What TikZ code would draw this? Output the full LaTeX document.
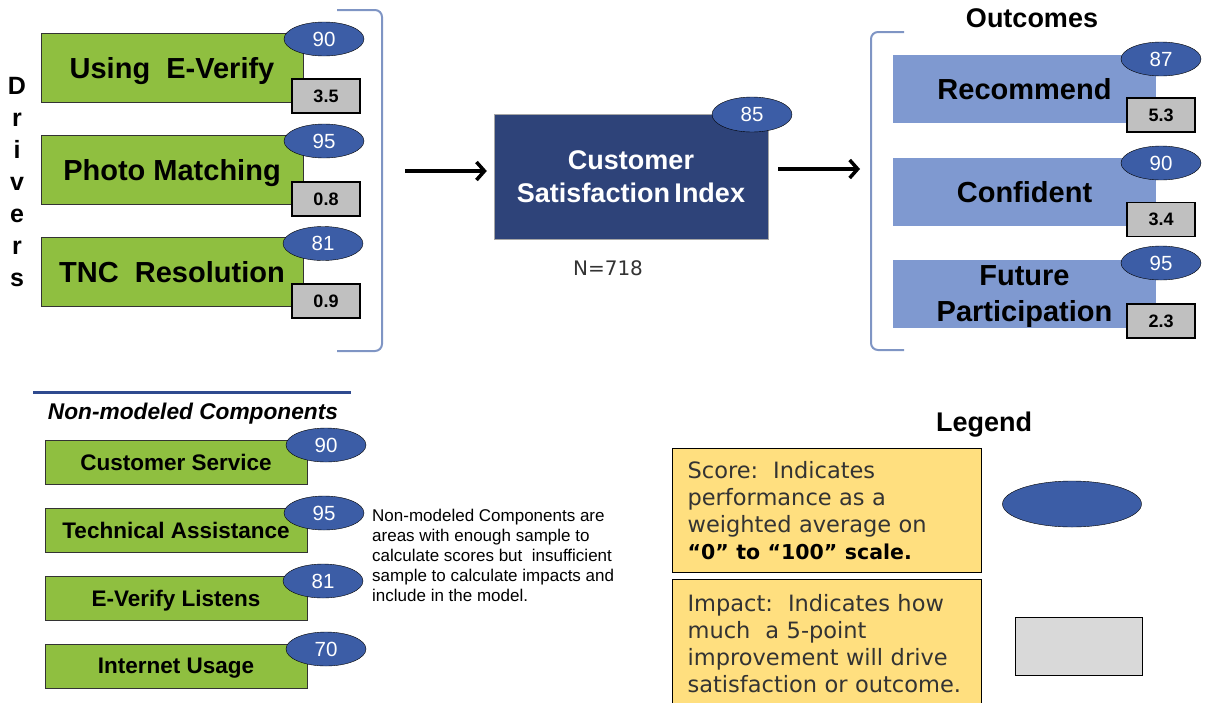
\documentclass[tikz,border=0pt]{standalone}
\usepackage{fontspec}
\setmainfont{Liberation Sans}
\newfontfamily\legendfont{DejaVu Sans}
\usetikzlibrary{shapes.geometric,arrows.meta}
\definecolor{drvgreen}{HTML}{8FBF40}
\definecolor{outblue}{HTML}{7F99D0}
\definecolor{csinavy}{HTML}{2E4379}
\definecolor{scoreblue}{HTML}{3C5DA6}
\definecolor{impgray}{HTML}{C0C0C0}
\definecolor{legendgray}{HTML}{D9D9D9}
\definecolor{bracketblue}{HTML}{7F95C4}
\definecolor{linenavy}{HTML}{2F4A8F}
\definecolor{legyellow}{HTML}{FFDF7F}
\definecolor{legtext}{HTML}{333333}

\begin{document}
\begin{tikzpicture}[x=1pt,y=-1pt,
    drvbox/.style={draw=black!80, fill=drvgreen, minimum width=262, minimum height=69, inner sep=0,
      text depth=0pt, font=\fontsize{29}{32}\selectfont\bfseries},
    outbox/.style={fill=outblue, minimum width=263, minimum height=68, inner sep=0, align=center,
      text depth=0pt, font=\fontsize{29}{36}\selectfont\bfseries},
    nmbox/.style={draw=black!80, fill=drvgreen, minimum width=262, minimum height=44, inner sep=0,
      text depth=0pt, font=\fontsize{22.5}{26}\selectfont\bfseries},
    scoreoval/.style={ellipse, draw=black, fill=scoreblue, minimum width=80, minimum height=34,
      inner sep=0, text=white, font=\fontsize{20.5}{22}\selectfont},
    impactbox/.style={draw=black, line width=1.2pt, fill=impgray, minimum width=68, minimum height=34,
      inner sep=0, font=\fontsize{18}{20}\selectfont\bfseries},
    bracket/.style={draw=bracketblue, line width=2pt, rounded corners=7},
    flowarrow/.style={line width=3.5pt, -{Straight Barb[length=8pt,width=18pt]}},
    legbox/.style={draw=black, line width=1.2pt, fill=legyellow, minimum width=309, inner xsep=15,
      text width=279, align=left, anchor=north west, text=legtext,
      font=\legendfont\fontsize{22.5}{27}\selectfont}]
  \useasboundingbox (0,0) rectangle (1205,702);

  % Drivers
  \node[anchor=north, inner sep=0, align=center, font=\fontsize{25}{32}\selectfont\bfseries]
    (drvlabel) at (17,77) {D\\r\\i\\v\\e\\r\\s};
  \node[drvbox] (everify) at (172,67.5) {Using\ \ E-Verify};
  \node[drvbox] (photo) at (172,170) {Photo Matching};
  \node[drvbox] (tnc) at (172,272) {TNC\ \ Resolution};
  \node[impactbox] (everifyimp) at (326,96) {3.5};
  \node[impactbox] (photoimp) at (326,199) {0.8};
  \node[impactbox] (tncimp) at (326,301) {0.9};
  \node[scoreoval] (everifyscore) at (324,39) {90};
  \node[scoreoval] (photoscore) at (324,141) {95};
  \node[scoreoval] (tncscore) at (323,243.5) {81};
  \draw[bracket] (337,10) -- (382,10) -- (382,351) -- (337,351);

  % Customer Satisfaction Index
  \node[draw=black!35, fill=csinavy, minimum width=274, minimum height=125, inner sep=0,
    text=white, align=center, font=\fontsize{27}{33}\selectfont\bfseries]
    (csi) at (631,176.5) {Customer\\Satisfaction\,Index};
  \node[scoreoval, minimum height=35] (csiscore) at (752,114.5) {85};
  \node[text=legtext, font=\legendfont\fontsize{20}{22}\selectfont] (sample) at (608,268) {N=718};
  \coordinate (drvout) at (405,171);
  \coordinate (outin) at (860,169);
  \draw[flowarrow, shorten >=7pt] (drvout) -- (drvout -| csi.west);
  \draw[flowarrow, shorten <=10pt] (outin -| csi.east) -- (outin);

  % Outcomes
  \node[font=\fontsize{27}{30}\selectfont\bfseries] (outlabel) at (1032,18) {Outcomes};
  \node[outbox] (recommend) at (1024.5,89) {Recommend};
  \node[outbox] (confident) at (1024.5,191.5) {Confident};
  \node[outbox] (future) at (1024.5,294) {Future\\Participation};
  \node[impactbox] (recommendimp) at (1161,115) {5.3};
  \node[impactbox] (confidentimp) at (1161,219.5) {3.4};
  \node[impactbox] (futureimp) at (1161,321) {2.3};
  \node[scoreoval] (recommendscore) at (1161,59) {87};
  \node[scoreoval] (confidentscore) at (1161,163) {90};
  \node[scoreoval] (futurescore) at (1161,263) {95};
  \draw[bracket] (904,32) -- (871,32) -- (871,350) -- (904,350);

  % Non-modeled components
  \draw[linenavy, line width=3pt] (33,392) -- (351,392);
  \node[font=\fontsize{22.7}{26}\selectfont\bfseries\itshape] (nmlabel) at (193,414) {Non-modeled Components};
  \node[nmbox] (service) at (176,462.5) {Customer Service};
  \node[nmbox] (assist) at (176,530) {Technical Assistance};
  \node[nmbox] (listens) at (176,598) {E-Verify Listens};
  \node[nmbox] (internet) at (176,666) {Internet Usage};
  \node[scoreoval] (servicescore) at (326,445) {90};
  \node[scoreoval] (assistscore) at (324,513) {95};
  \node[scoreoval] (listensscore) at (323,581) {81};
  \node[scoreoval] (internetscore) at (326,649) {70};
  \node[anchor=west, inner sep=0, align=left, font=\fontsize{17}{20}\selectfont] (nmnote) at (372,555)
    {Non-modeled Components are\\areas with enough sample to\\calculate scores but\ \ insufficient\\sample to calculate impacts and\\include in the model.};

  % Legend
  \node[font=\fontsize{27}{30}\selectfont\bfseries] (leglabel) at (984,425) {Legend};
  \node[legbox, minimum height=124] (scorekey) at (672,448)
    {Score:\ \ Indicates\\performance as a\\weighted average on\\{\fontsize{20.5}{27}\selectfont\bfseries\color{black}“0” to “100” scale.}};
  \node[legbox, minimum height=128] (impactkey) at (672,579)
    {Impact:\ \ Indicates how\\much\ \ a 5-point\\improvement will drive\\satisfaction or outcome.};
  \node[ellipse, draw=black, fill=scoreblue, minimum width=139, minimum height=46] (scoreshape) at (1072,504) {};
  \node[draw=black, fill=legendgray, minimum width=127, minimum height=58] (impactshape) at (1078.5,646) {};
\end{tikzpicture}
\end{document}
